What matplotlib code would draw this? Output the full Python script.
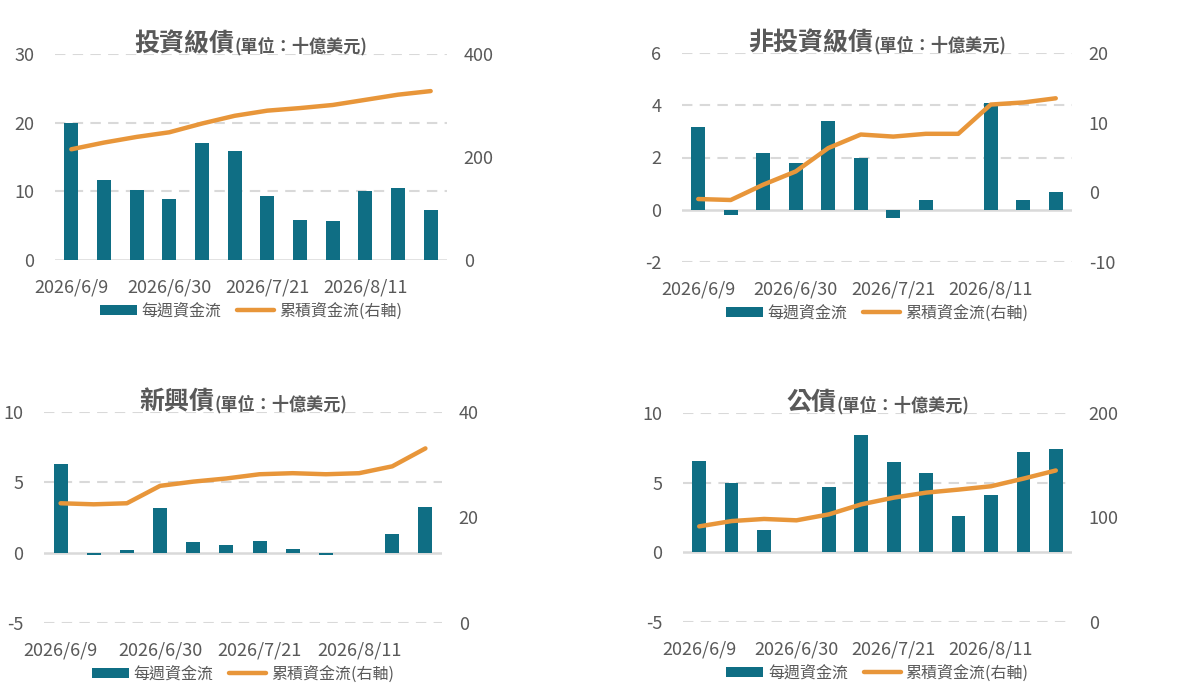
import matplotlib
matplotlib.use('Agg')
import matplotlib.pyplot as plt
import numpy as np

plt.rcParams['font.family'] = ['Noto Sans CJK TC', 'DejaVu Sans']
plt.rcParams['axes.unicode_minus'] = False

# Weekly dates (every week), labels shown every 3 weeks
weeks = ['2026/6/9', '2026/6/16', '2026/6/23', '2026/6/30', '2026/7/7', '2026/7/14',
         '2026/7/21', '2026/7/28', '2026/8/4', '2026/8/11', '2026/8/18', '2026/8/25']

# 投資級債
ig_weekly = [20.0, 11.7, 10.2, 8.9, 17.1, 15.9, 9.3, 5.8, 5.7, 10.1, 10.5, 7.3]
ig_cum = [215, 228, 239, 248, 265, 280, 290, 295, 301, 311, 321, 328]
# 非投資級債
hy_weekly = [3.17, -0.2, 2.17, 1.79, 3.40, 2.0, -0.31, 0.37, 0.0, 4.09, 0.37, 0.68]
hy_cum = [-0.96, -1.1, 1.1, 3.0, 6.35, 8.3, 8.0, 8.4, 8.4, 12.6, 12.9, 13.5]
# 新興債
em_weekly = [6.3, -0.2, 0.19, 3.18, 0.76, 0.55, 0.83, 0.26, -0.2, 0.0, 1.33, 3.25]
em_cum = [22.7, 22.5, 22.7, 26.0, 26.8, 27.4, 28.2, 28.4, 28.2, 28.4, 29.7, 33.1]
# 公債
gov_weekly = [6.55, 4.98, 1.62, 0.0, 4.69, 8.4, 6.48, 5.69, 2.62, 4.12, 7.19, 7.4]
gov_cum = [91.5, 96.6, 98.6, 97.3, 103, 112.6, 119, 123.8, 126.7, 129.9, 137.2, 145]

BAR = '#0F6E84'
LINE = '#E8963A'
TXT = '#595959'
GRID = '#D9D9D9'

W, H = 1200, 689
fig = plt.figure(figsize=(12, 6.89), dpi=100)

panels = [
    # name, weekly, cum, left ticks, right ticks, axes box (px: x0, x1, ytop, ybottom)
    ('投資級債', ig_weekly, ig_cum, [0, 10, 20, 30], [0, 200, 400], (55, 447, 54, 260)),
    ('非投資級債', hy_weekly, hy_cum, [-2, 0, 2, 4, 6], [-10, 0, 10, 20], (682, 1072, 53, 262)),
    ('新興債', em_weekly, em_cum, [-5, 0, 5, 10], [0, 20, 40], (44, 442, 412, 623)),
    ('公債', gov_weekly, gov_cum, [-5, 0, 5, 10], [0, 100, 200], (683, 1072, 413, 622)),
]

titles = []
for name, weekly, cum, lt, rt, (x0, x1, yt, yb) in panels:
    ax = fig.add_axes([x0 / W, 1 - yb / H, (x1 - x0) / W, (yb - yt) / H])
    x = np.arange(len(weeks))
    bars = ax.bar(x, weekly, width=0.42, color=BAR, label='每週資金流', zorder=3)
    ax.set_ylim(lt[0], lt[-1])
    ax.set_xlim(-0.5, len(weeks) - 0.5)
    ax.set_yticks(lt)
    for v in lt:
        if v == 0:
            ax.axhline(0, color=GRID, lw=1.8, zorder=2)
        else:
            ax.axhline(v, color=GRID, lw=1.5, ls=(0, (5, 3.5)), zorder=1)
    for s in ax.spines.values():
        s.set_visible(False)
    ax.set_xticks(x[::3])
    ax.set_xticklabels(weeks[::3])
    ax.tick_params(axis='both', length=0, colors=TXT, labelsize=13)
    ax.tick_params(axis='x', pad=13)
    ax.tick_params(axis='y', pad=15)

    ax2 = ax.twinx()
    line, = ax2.plot(x, cum, color=LINE, lw=3.2, solid_capstyle='round',
                     solid_joinstyle='round', label='累積資金流(右軸)', zorder=4)
    ax2.set_ylim(rt[0], rt[-1])
    ax2.set_yticks(rt)
    for s in ax2.spines.values():
        s.set_visible(False)
    ax2.tick_params(axis='y', length=0, colors=TXT, labelsize=13, pad=12)

    leg = ax.legend(handles=[bars, line], loc='center',
                    bbox_to_anchor=(0.5, -51 / (yb - yt)),
                    ncol=2, frameon=False, fontsize=11.5, handlelength=2.3, handleheight=0.65,
                    columnspacing=1.0, handletextpad=0.3, borderaxespad=0)
    for t in leg.get_texts():
        t.set_color(TXT)

    cx = (x0 + x1) / 2
    ty = yt - 3
    big = fig.text(cx / W, 1 - ty / H, name, fontsize=18, fontweight='bold', color=TXT,
                   ha='right', va='baseline')
    small = fig.text(cx / W, 1 - ty / H, '(單位：十億美元)', fontsize=12.3, fontweight='bold',
                     color=TXT, ha='left', va='baseline')
    titles.append((big, small, cx, ty))

# center the two-part titles over each panel
fig.canvas.draw()
r = fig.canvas.get_renderer()
for big, small, cx, ty in titles:
    wb = big.get_window_extent(r).width
    ws = small.get_window_extent(r).width
    left = cx - (wb + ws) / 2
    big.set_position(((left + wb) / W, 1 - ty / H))
    small.set_position(((left + wb) / W, 1 - ty / H))

fig.savefig('out.png', dpi=100)
